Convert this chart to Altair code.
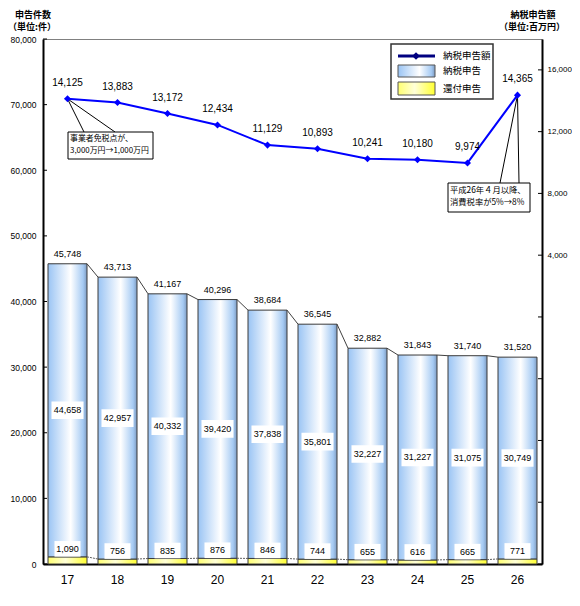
import altair as alt
import pandas as pd

# ---- data ----
years = ['17', '18', '19', '20', '21', '22', '23', '24', '25', '26']
total = [45748, 43713, 41167, 40296, 38684, 36545, 32882, 31843, 31740, 31520]
tax_returns = [44658, 42957, 40332, 39420, 37838, 35801, 32227, 31227, 31075, 30749]
refund = [1090, 756, 835, 876, 846, 744, 655, 616, 665, 771]
amount = [14125, 13883, 13172, 12434, 11129, 10893, 10241, 10180, 9974, 14365]
left_ticks = [0, 10000, 20000, 30000, 40000, 50000, 60000, 70000, 80000]
right_ticks = [-16000, -12000, -8000, -4000, 0, 4000, 8000, 12000, 16000]
note1 = ['事業者免税点が、', '3,000万円→1,000万円']
note2 = ['平成26年４月以降、', '消費税率が5%→8%']
legend_labels = ['納税申告額', '納税申告', '還付申告']

df = pd.DataFrame({'cat': years, 'total': total, 'tax': tax_returns,
                   'refund': refund, 'amount': amount})
pairs = pd.DataFrame({'cat': years[:-1], 'next_cat': years[1:],
                      'total': total[:-1], 'next_total': total[1:],
                      'refund': refund[:-1], 'next_refund': refund[1:]})
one = pd.DataFrame({'a': [0]})

W, H = 499, 525
JP = 'Noto Sans CJK JP'
NUM = 'Liberation Sans'

xscale = alt.Scale(domain=years, paddingInner=0.22, paddingOuter=0.1)
x_axis = alt.Axis(title=None, labelAngle=0, ticks=False, labelPadding=10,
                  labelFontSize=12, labelFont=NUM, labelColor='black',
                  domainWidth=2, domainColor='black')
X = alt.X('cat:N', scale=xscale, sort=years, axis=x_axis)

yl = alt.Scale(domain=[0, 80000], nice=False, zero=False)
yr = alt.Scale(domain=[-16000, 18000], nice=False, zero=False)
left_axis = alt.Axis(title=None, values=left_ticks, grid=False,
                     labelExpr="format(datum.value, ',')",
                     ticks=False, labelPadding=7, labelFontSize=8.5, labelFont=NUM,
                     labelColor='black', domainWidth=2, domainColor='black',
                     orient='left')
right_axis = alt.Axis(title=None, values=right_ticks, grid=False, ticks=False,
                      labelExpr="datum.value > 0 ? format(datum.value, ',') : ''",
                      labelPadding=5, labelFontSize=8, labelFont=NUM,
                      labelColor='black', domainWidth=2, domainColor='black',
                      orient='right')

blue_grad = alt.LinearGradient(
    gradient='linear', x1=0, x2=1, y1=0, y2=0,
    stops=[alt.GradientStop(color='#9ac4f4', offset=0),
           alt.GradientStop(color='#ffffff', offset=0.58),
           alt.GradientStop(color='#a5caf3', offset=0.9),
           alt.GradientStop(color='#7f9cc2', offset=1)])
yellow_grad = alt.LinearGradient(
    gradient='linear', x1=0, x2=1, y1=0, y2=0,
    stops=[alt.GradientStop(color='#ffff70', offset=0),
           alt.GradientStop(color='#ffffd8', offset=0.45),
           alt.GradientStop(color='#ffff30', offset=1)])

base = alt.Chart(df)

bars_blue = base.mark_bar(fill=blue_grad, stroke='#3a3a3a', strokeWidth=1).encode(
    x=X, y=alt.Y('total:Q', scale=yl, axis=left_axis), y2='refund:Q')
bars_yellow = base.mark_bar(fill=yellow_grad, stroke='#3a3a3a', strokeWidth=1).encode(
    x=X, y=alt.Y('refund:Q', scale=yl, axis=left_axis), y2=alt.datum(0))

series_top = alt.Chart(pairs).mark_rule(color='#404040', strokeWidth=1).encode(
    x=alt.X('cat:N', scale=xscale, sort=years, axis=x_axis, bandPosition=1),
    x2=alt.X2('next_cat', bandPosition=0),
    y=alt.Y('total:Q', scale=yl, axis=left_axis), y2='next_total:Q')
series_bot = alt.Chart(pairs).mark_rule(color='#606060', strokeWidth=1, strokeDash=[2, 1]).encode(
    x=alt.X('cat:N', scale=xscale, sort=years, axis=x_axis, bandPosition=1),
    x2=alt.X2('next_cat', bandPosition=0),
    y=alt.Y('refund:Q', scale=yl, axis=left_axis), y2='next_refund:Q')

box_mid = base.transform_calculate(mid='(datum.total + datum.refund) / 2').mark_point(
    shape='M-1,-0.55L1,-0.55L1,0.55L-1,0.55Z', filled=True, fill='white',
    opacity=1, strokeWidth=0, size=32 * 32).encode(
    x=X, y=alt.Y('mid:Q', scale=yl, axis=left_axis))
box_ref = base.mark_point(
    shape='M-1,-0.6L1,-0.6L1,0.6L-1,0.6Z', filled=True, fill='white',
    opacity=1, strokeWidth=0, size=26 * 26, yOffset=-8).encode(
    x=X, y=alt.Y('refund:Q', scale=yl, axis=left_axis))

txt_total = base.mark_text(dy=-10, fontSize=9, font=NUM, color='black').encode(
    x=X, y=alt.Y('total:Q', scale=yl, axis=left_axis),
    text=alt.Text('total:Q', format=','))
txt_mid = base.transform_calculate(mid='(datum.total + datum.refund) / 2').mark_text(
    fontSize=9, font=NUM, color='black').encode(
    x=X, y=alt.Y('mid:Q', scale=yl, axis=left_axis),
    text=alt.Text('tax:Q', format=','))
txt_ref = base.mark_text(dy=-8, fontSize=9, font=NUM, color='black').encode(
    x=X, y=alt.Y('refund:Q', scale=yl, axis=left_axis),
    text=alt.Text('refund:Q', format=','))

lticks = alt.Chart(pd.DataFrame({'v': left_ticks})).mark_rule(color='black', strokeWidth=1).encode(
    y=alt.Y('v:Q', scale=yl, axis=left_axis), x=alt.value(0), x2=alt.value(4))

left_layer = alt.layer(bars_yellow, bars_blue, series_top, series_bot, box_mid, box_ref,
                       txt_total, txt_mid, txt_ref, lticks)

# right-axis layer
XR = alt.X('cat:N', scale=xscale, sort=years, axis=x_axis)
line = base.mark_line(color='#0000ff', strokeWidth=2).encode(
    x=XR, y=alt.Y('amount:Q', scale=yr, axis=right_axis))
pts = base.mark_point(shape='diamond', filled=True, color='#0000ff', opacity=1, size=50).encode(
    x=XR, y=alt.Y('amount:Q', scale=yr, axis=right_axis))
txt_amt = base.mark_text(dy=-16, fontSize=10, font=NUM, color='black').encode(
    x=XR, y=alt.Y('amount:Q', scale=yr, axis=right_axis),
    text=alt.Text('amount:Q', format=','))
rticks = alt.Chart(pd.DataFrame({'v': right_ticks})).mark_rule(color='black', strokeWidth=1).encode(
    y=alt.Y('v:Q', scale=yr, axis=right_axis), x=alt.value(W - 4), x2=alt.value(W))

c1 = base.transform_filter(alt.datum.cat == '17')
c2 = base.transform_filter(alt.datum.cat == '26')
call1a = c1.mark_rule(color='black', strokeWidth=1).encode(
    x=XR, y=alt.Y('amount:Q', scale=yr, axis=right_axis), x2=alt.value(41), y2=alt.value(93))
call1b = c1.mark_rule(color='black', strokeWidth=1).encode(
    x=XR, y=alt.Y('amount:Q', scale=yr, axis=right_axis), x2=alt.value(72), y2=alt.value(93))
call2a = c2.mark_rule(color='black', strokeWidth=1).encode(
    x=XR, y=alt.Y('amount:Q', scale=yr, axis=right_axis), x2=alt.value(457), y2=alt.value(144))
call2b = c2.mark_rule(color='black', strokeWidth=1).encode(
    x=XR, y=alt.Y('amount:Q', scale=yr, axis=right_axis), x2=alt.value(476), y2=alt.value(144))

right_layer = alt.layer(call1a, call1b, call2a, call2b, line, pts, txt_amt, rticks)

# ---- decorations (callout boxes, legend, axis titles) ----
deco = alt.Chart(one)
box1 = deco.mark_rect(fill='white', stroke='black', strokeWidth=1).encode(
    x=alt.value(25), x2=alt.value(110), y=alt.value(93), y2=alt.value(120))
box1t = deco.mark_text(text=note1, align='left', baseline='top', fontSize=7.9,
                       font=JP, lineHeight=11.5, color='black').encode(
    x=alt.value(27), y=alt.value(96))
box2 = deco.mark_rect(fill='white', stroke='black', strokeWidth=1).encode(
    x=alt.value(405), x2=alt.value(487), y=alt.value(144), y2=alt.value(173))
box2t = deco.mark_text(text=note2, align='left', baseline='top', fontSize=8.3,
                       font=JP, lineHeight=11.5, color='black').encode(
    x=alt.value(407), y=alt.value(147))

leg_box = deco.mark_rect(fill='white', stroke='#333333', strokeWidth=1.5).encode(
    x=alt.value(348), x2=alt.value(450), y=alt.value(5), y2=alt.value(60))
leg_line = deco.mark_rule(color='#000080', strokeWidth=3).encode(
    x=alt.value(355), x2=alt.value(392), y=alt.value(17))
leg_pt = deco.mark_point(shape='diamond', filled=True, color='#000080', opacity=1, size=60).encode(
    x=alt.value(373), y=alt.value(17))
leg_blue = deco.mark_rect(fill=blue_grad, stroke='#555555', strokeWidth=1).encode(
    x=alt.value(355), x2=alt.value(392), y=alt.value(26), y2=alt.value(38))
leg_yel = deco.mark_rect(fill=yellow_grad, stroke='#555555', strokeWidth=1).encode(
    x=alt.value(355), x2=alt.value(392), y=alt.value(43), y2=alt.value(56))
leg_t1 = deco.mark_text(text=legend_labels[0], align='left', baseline='middle', fontSize=9.5,
                        font=JP, color='black').encode(x=alt.value(400), y=alt.value(17))
leg_t2 = deco.mark_text(text=legend_labels[1], align='left', baseline='middle', fontSize=9.5,
                        font=JP, color='black').encode(x=alt.value(400), y=alt.value(32))
leg_t3 = deco.mark_text(text=legend_labels[2], align='left', baseline='middle', fontSize=9.5,
                        font=JP, color='black').encode(x=alt.value(400), y=alt.value(50))

t_l1 = deco.mark_text(text='申告件数', fontSize=9, fontWeight='bold', font=JP, color='black').encode(
    x=alt.value(-10), y=alt.value(-24))
t_l2 = deco.mark_text(text='（単位:件）', fontSize=9, fontWeight='bold', font=JP, color='black').encode(
    x=alt.value(-11), y=alt.value(-12))
t_r1 = deco.mark_text(text='納税申告額', fontSize=9, fontWeight='bold', font=JP, color='black').encode(
    x=alt.value(490), y=alt.value(-24))
t_r2 = deco.mark_text(text='（単位:百万円）', fontSize=9, fontWeight='bold', font=JP, color='black').encode(
    x=alt.value(489), y=alt.value(-12))

deco_layer = alt.layer(box1, box1t, box2, box2t, leg_box, leg_line, leg_pt, leg_blue, leg_yel,
                       leg_t1, leg_t2, leg_t3, t_l1, t_l2, t_r1, t_r2)

chart = alt.layer(left_layer, right_layer, deco_layer).resolve_scale(
    y='independent'
).properties(
    width=W, height=H,
    autosize=alt.AutoSizeParams(type='none'),
    padding={'left': 35, 'top': 31, 'right': 30, 'bottom': 26},
    background='white'
).configure_view(stroke='#808080', strokeWidth=1)

chart.save('out.html', embed_options={'renderer': 'svg', 'actions': False})
